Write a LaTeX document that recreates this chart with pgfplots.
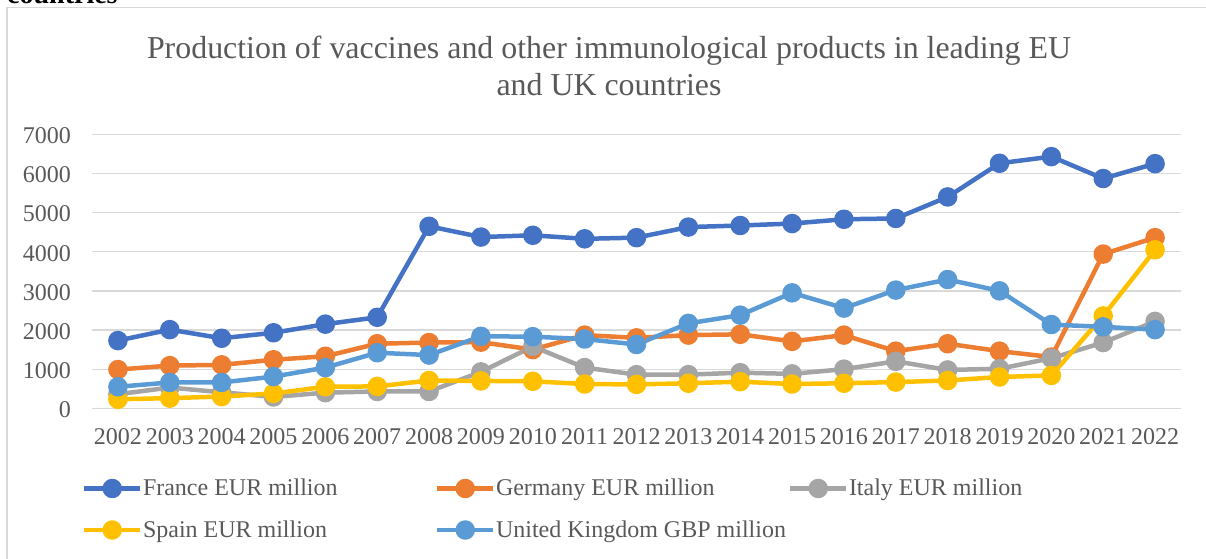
\documentclass[border=0pt]{standalone}
\usepackage{pgfplots}
\usepackage{pgfplotstable}
\pgfplotsset{compat=1.18}
\usepackage{fontspec}
\setmainfont{Liberation Serif}

\definecolor{txt}{HTML}{595959}
\definecolor{gridc}{HTML}{D9D9D9}
\definecolor{cFR}{HTML}{4472C4}
\definecolor{cDE}{HTML}{ED7D31}
\definecolor{cIT}{HTML}{A5A5A5}
\definecolor{cES}{HTML}{FFC000}
\definecolor{cUK}{HTML}{5B9BD5}

% Production of vaccines and other immunological products (millions)
\pgfplotstableread{
year FR   DE   IT   ES   UK
2002 1730 990  360  230  550
2003 2010 1090 530  260  660
2004 1790 1110 410  300  660
2005 1930 1240 290  380  810
2006 2150 1330 400  550  1040
2007 2325 1650 430  560  1420
2008 4650 1680 430  710  1360
2009 4375 1690 930  700  1840
2010 4420 1500 1580 690  1830
2011 4330 1870 1040 620  1770
2012 4360 1800 860  610  1630
2013 4630 1870 860  640  2170
2014 4670 1890 910  680  2380
2015 4720 1710 880  620  2950
2016 4830 1870 1000 640  2560
2017 4850 1460 1200 670  3020
2018 5400 1650 980  710  3290
2019 6260 1460 1010 800  3000
2020 6430 1310 1280 840  2140
2021 5870 3940 1680 2360 2080
2022 6250 4360 2220 4050 2010
}\vacc

% fixed-width legend text cell, so the three columns are evenly spaced
\newcommand{\lgd}[1]{\makebox[292.5pt][l]{\hspace{0.5pt}#1}}

\begin{document}
\begin{tikzpicture}[x=1pt,y=1pt]
\useasboundingbox (0,0) rectangle (1206,558);
\clip (0,0) rectangle (1206,558);
% chart frame
\draw[gridc, line width=1.3pt] (7,-10) -- (7,550.5) -- (1230,550.5);
% end of the caption above the frame
\node[anchor=base west, inner sep=0pt, font=\fontsize{28}{32}\selectfont\bfseries] at (7,554) {countries};
% title
\node[anchor=base, inner sep=0pt, text=txt, font=\fontsize{31.9}{36}\selectfont] at (609,499)
  {Production of vaccines and other immunological products in leading EU};
\node[anchor=base, inner sep=0pt, text=txt, font=\fontsize{31.9}{36}\selectfont] at (609,462)
  {and UK countries};

\begin{axis}[
  at={(92pt,149.7pt)}, anchor=south west,
  width=1089pt, height=274pt, scale only axis,
  xmin=2001.5, xmax=2022.5, ymin=0, ymax=7000,
  axis line style={draw=none},
  major tick length=0pt,
  ymajorgrids, grid style={gridc, line width=1.3pt},
  ytick={0,1000,...,7000},
  yticklabels={0,1000,2000,3000,4000,5000,6000,7000},
  xtick={2002,2003,...,2022},
  xticklabels={2002,2003,2004,2005,2006,2007,2008,2009,2010,2011,2012,2013,2014,2015,2016,2017,2018,2019,2020,2021,2022},
  tick label style={font=\fontsize{24}{28}\selectfont, text=txt, inner sep=0pt},
  yticklabel style={anchor=east, xshift=-21pt, yshift=-1.5pt},
  xticklabel style={anchor=base, yshift=-35.7pt},
  clip=false,
  legend columns=3,
  legend cell align=left,
  legend style={at={(axis description cs:0,0)}, anchor=north west,
    xshift=-10pt, yshift=-65.5pt,
    draw=none, fill=none, inner sep=0pt, outer sep=0pt,
    column sep=0pt, row sep=9.5pt,
    cells={anchor=base west},
    nodes={inner sep=0pt, text height=22pt, text depth=10pt,
           text=txt, font=\fontsize{24}{28}\selectfont}},
  legend image code/.code={
    \draw[mark repeat=2, mark phase=2, #1]
      plot coordinates {(0pt,7.3pt) (28pt,7.3pt) (56pt,7.3pt)};},
  every axis plot/.append style={line width=4.5pt, line join=round, mark=*, mark size=7.5pt},
]
\addplot[cFR, mark options={draw=none, fill=cFR}] table[x=year, y=FR] {\vacc};
\addlegendentry{\lgd{France EUR million}}
\addplot[cDE, mark options={draw=none, fill=cDE}] table[x=year, y=DE] {\vacc};
\addlegendentry{\lgd{Germany EUR million}}
\addplot[cIT, mark options={draw=none, fill=cIT}] table[x=year, y=IT] {\vacc};
\addlegendentry{\lgd{Italy EUR million}}
\addplot[cES, mark options={draw=none, fill=cES}] table[x=year, y=ES] {\vacc};
\addlegendentry{\lgd{Spain EUR million}}
\addplot[cUK, mark options={draw=none, fill=cUK}] table[x=year, y=UK] {\vacc};
\addlegendentry{\lgd{United Kingdom GBP million}}
\end{axis}
\end{tikzpicture}
\end{document}
